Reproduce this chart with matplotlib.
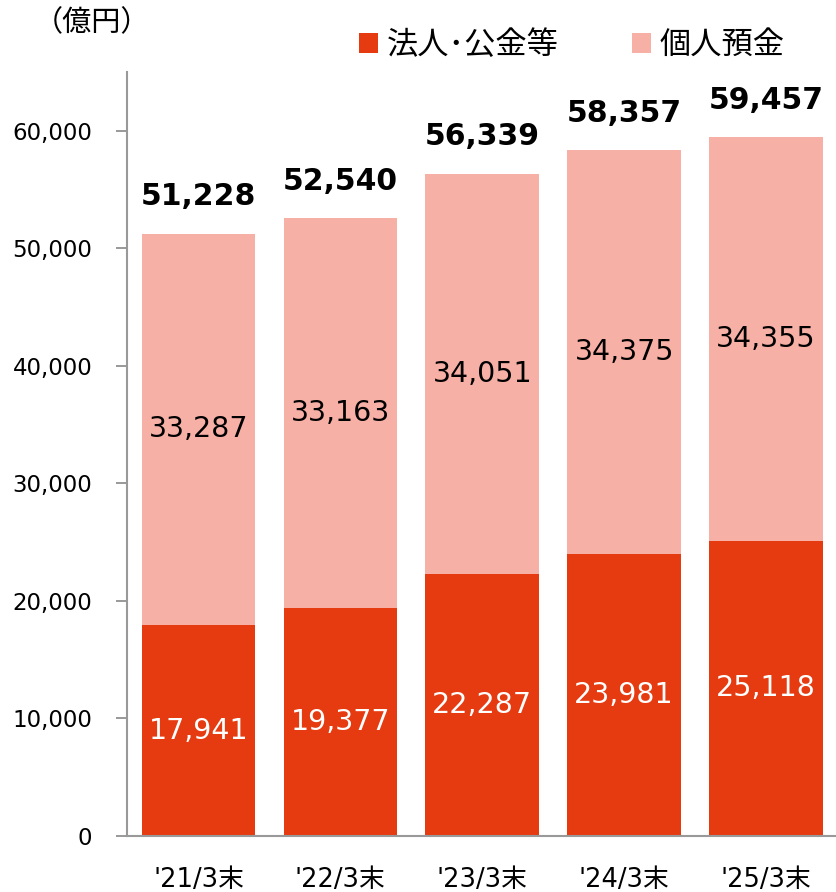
import matplotlib
matplotlib.use("Agg")
import matplotlib.pyplot as plt
from matplotlib.patches import Patch

plt.rcParams['font.family'] = ['DejaVu Sans', 'Noto Sans CJK JP']

categories = ["'21/3末", "'22/3末", "'23/3末", "'24/3末", "'25/3末"]
corporate = [17941, 19377, 22287, 23981, 25118]
personal = [33287, 33163, 34051, 34375, 34355]
totals = [51228, 52540, 56339, 58357, 59457]
y_ticks = [0, 10000, 20000, 30000, 40000, 50000, 60000]

RED = '#E63A10'
PINK = '#F7B0A6'

fig = plt.figure(figsize=(8.37, 8.92), dpi=100)
ax = fig.add_axes([127 / 837, 1 - 836 / 892, 710 / 837, (836 - 72) / 892])

x = list(range(len(categories)))
ax.bar(x, corporate, width=0.8, color=RED, linewidth=0)
ax.bar(x, personal, width=0.8, bottom=corporate, color=PINK, linewidth=0)

for i in x:
    ax.text(i, corporate[i] / 2, f"{corporate[i]:,}", ha='center', va='center',
            color='white', fontsize=20.5)
    ax.text(i, corporate[i] + personal[i] / 2, f"{personal[i]:,}", ha='center',
            va='center', color='black', fontsize=20.5)
    ax.text(i, totals[i] + 3150, f"{totals[i]:,}", ha='center', va='center',
            color='black', fontsize=21.5, fontweight='bold')

ax.set_xlim(-0.5035, 4.5)
ax.set_ylim(0, 65000)
ax.set_yticks(y_ticks)
ax.set_yticklabels([f"{v:,}" for v in y_ticks], fontsize=16.5)
ax.set_xticks(x)
ax.set_xticklabels(categories, fontsize=18.5)
ax.tick_params(axis='x', length=0, pad=22)
ax.tick_params(axis='y', length=8, width=1.2, color='#888888', pad=17)
for side in ('top', 'right'):
    ax.spines[side].set_visible(False)
for side in ('left', 'bottom'):
    ax.spines[side].set_color('#999999')
    ax.spines[side].set_linewidth(1.5)

fig.text(92 / 837, 1 - 23 / 892, '（億円）', ha='center', va='center', fontsize=21,
         family=['Noto Sans CJK JP', 'DejaVu Sans'])

handles = [Patch(facecolor=RED, edgecolor='none'), Patch(facecolor=PINK, edgecolor='none')]
fig.legend(handles, ['法人･公金等', '個人預金'], loc='center', ncol=2, frameon=False,
           bbox_to_anchor=(572 / 837, 1 - 45 / 892),
           prop={'family': ['Noto Sans CJK JP', 'DejaVu Sans'], 'size': 22.5},
           handlelength=0.6, handleheight=0.6, handletextpad=0.28, columnspacing=2.35)

fig.savefig('out.png', dpi=100)
